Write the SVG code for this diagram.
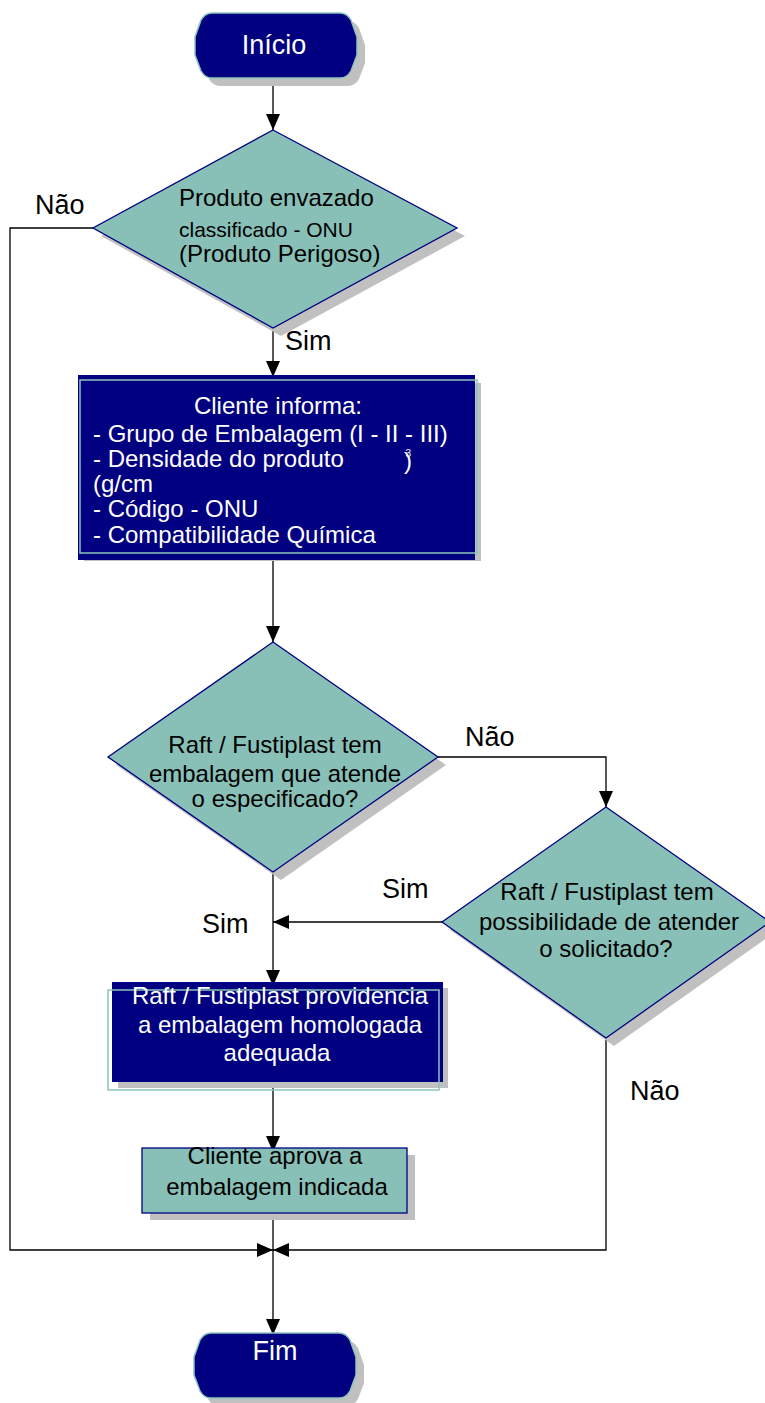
<svg xmlns="http://www.w3.org/2000/svg" width="765" height="1403" viewBox="0 0 765 1403">
<style>
.t{font-family:"Liberation Sans",Arial,sans-serif;}
.w{fill:#ffffff;}
.k{fill:#000000;}
.navy{fill:#000080;}
.teal{fill:#88c0b8;stroke:#000080;stroke-width:1.3;}
.sh{fill:#c0c0c0;}
.outl{fill:none;stroke:#8cc4bc;stroke-width:1.5;}
.c{fill:none;stroke:#000000;stroke-width:1.3;}
.lbl{font-size:27px;}
.m{font-size:24px;}
</style>
<defs>
<marker id="arr" markerUnits="userSpaceOnUse" viewBox="0 0 16 14" refX="16" refY="7" markerWidth="16" markerHeight="14" orient="auto">
<path d="M0,0 L16,7 L0,14 Z" fill="#000000"/>
</marker>
<path id="term" d="M17,0 H145 Q152,0 156,7 L162,24 V42 L156,58 Q152,65 145,65 H17 Q10,65 6,58 L0,42 V24 L6,7 Q10,0 17,0 Z"/>
</defs>

<g id="connectors">
<path class="c" d="M273,78 V130" marker-end="url(#arr)"/>
<path class="c" d="M93,228 H10 V1250 H273" marker-end="url(#arr)"/>
<path class="c" d="M273,328 V377" marker-end="url(#arr)"/>
<path class="c" d="M273,560 V642" marker-end="url(#arr)"/>
<path class="c" d="M438,757 H606 V807" marker-end="url(#arr)"/>
<path class="c" d="M442,922 H273" marker-end="url(#arr)"/>
<path class="c" d="M273,872 V986" marker-end="url(#arr)"/>
<path class="c" d="M273,1082 V1152" marker-end="url(#arr)"/>
<path class="c" d="M273,1213 V1335" marker-end="url(#arr)"/>
<path class="c" d="M606,1038 V1250 H273" marker-end="url(#arr)"/>
<text class="t k lbl" x="35" y="214">Não</text>
<text class="t k lbl" x="285" y="350">Sim</text>
<text class="t k lbl" x="465" y="746">Não</text>
<text class="t k lbl" x="382" y="898">Sim</text>
<text class="t k lbl" x="202" y="933">Sim</text>
<text class="t k lbl" x="630" y="1100">Não</text>
</g>

<g id="inicio">
<use href="#term" x="203" y="21" class="sh"/>
<use href="#term" x="195" y="13" class="navy"/>
<use href="#term" x="195" y="13" class="outl"/>
<text class="t w" x="274" y="54" font-size="27" text-anchor="middle">Início</text>
</g>

<g id="d1">
<polygon class="sh" points="281,138 465,236 281,336 101,236"/>
<polygon class="teal" points="273,130 457,228 273,328 93,228"/>
<text class="t k m" x="179" y="206">Produto envazado</text>
<text class="t k" x="179" y="237" font-size="21">classificado - ONU</text>
<text class="t k m" x="179" y="262">(Produto Perigoso)</text>
</g>

<g id="box1">
<rect class="sh" x="84" y="383" width="397" height="178"/>
<rect class="navy" x="78" y="375" width="397" height="185"/>
<rect class="outl" x="80" y="380" width="397" height="173"/>
<text class="t w m" x="278" y="414" text-anchor="middle">Cliente informa:</text>
<text class="t w m" x="93" y="442">- Grupo de Embalagem (I - II - III)</text>
<text class="t w m" x="93" y="467">- Densidade do produto</text>
<text class="t w m" x="403" y="469"><tspan font-size="10" dx="1" dy="-12">3</tspan><tspan dx="-7" dy="12">)</tspan></text>
<text class="t w m" x="93" y="492">(g/cm</text>
<text class="t w m" x="93" y="517">- Código - ONU</text>
<text class="t w m" x="93" y="543">- Compatibilidade Química</text>
</g>

<g id="d2">
<polygon class="sh" points="281,650 446,765 281,880 116,765"/>
<polygon class="teal" points="273,642 438,757 273,872 108,757"/>
<text class="t k m" x="275" y="753" text-anchor="middle">Raft / Fustiplast tem</text>
<text class="t k m" x="275" y="782" text-anchor="middle">embalagem que atende</text>
<text class="t k m" x="275" y="807" text-anchor="middle">o especificado?</text>
</g>

<g id="d3">
<polygon class="sh" points="614,815 778,930 614,1046 450,930"/>
<polygon class="teal" points="606,807 770,922 606,1038 442,922"/>
<text class="t k m" x="607" y="900" text-anchor="middle">Raft / Fustiplast tem</text>
<text class="t k m" x="609" y="930" text-anchor="middle">possibilidade de atender</text>
<text class="t k m" x="606" y="957" text-anchor="middle">o solicitado?</text>
</g>

<g id="box2">
<rect class="sh" x="118" y="988" width="330" height="100"/>
<rect class="navy" x="112" y="982" width="331" height="100"/>
<rect class="outl" x="108" y="990" width="331" height="100"/>
<text class="t w m" x="280" y="1004" text-anchor="middle">Raft / Fustiplast providencia</text>
<text class="t w m" x="280" y="1033" text-anchor="middle">a embalagem homologada</text>
<text class="t w m" x="277" y="1061" text-anchor="middle">adequada</text>
</g>

<g id="box3">
<rect class="sh" x="150" y="1155" width="265" height="65"/>
<rect class="teal" x="142" y="1148" width="265" height="65"/>
<text class="t k m" x="275" y="1164" text-anchor="middle">Cliente aprova a</text>
<text class="t k m" x="277" y="1195" text-anchor="middle">embalagem indicada</text>
</g>

<g id="fim">
<use href="#term" x="202" y="1341" class="sh"/>
<use href="#term" x="194" y="1333" class="navy"/>
<use href="#term" x="194" y="1333" class="outl"/>
<text class="t w" x="275" y="1360" font-size="27" text-anchor="middle">Fim</text>
</g>
</svg>
